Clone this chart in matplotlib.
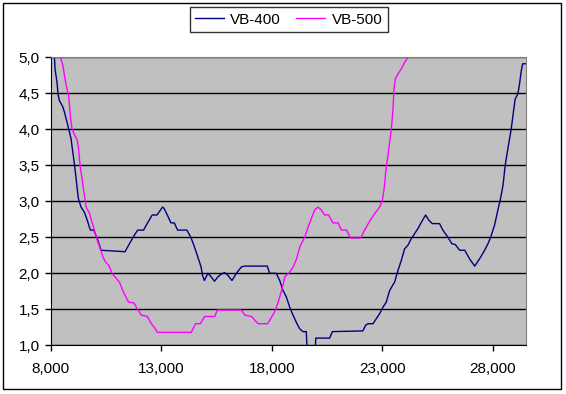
import matplotlib
matplotlib.use("Agg")
import matplotlib.pyplot as plt
from matplotlib.ticker import FuncFormatter, MultipleLocator
from matplotlib.patches import Rectangle

# VB-400 series
vb400_x = [8120, 8167, 8195, 8285, 8330, 8390, 8550, 8620, 8770, 8920, 9000, 9080, 9150, 9250,
           9370, 9520, 9650, 9750, 9800, 9950, 10130, 10280, 11360, 11560, 11785, 11935, 12200,
           12400, 12590, 12810, 13060, 13130, 13290, 13440, 13590, 13740, 14160, 14340, 14500,
           14650, 14800, 14870, 14950, 15110, 15260, 15410, 15560, 15720, 15870, 16020, 16200,
           16400, 16630, 16780, 17800, 17900, 18200, 18360, 18510, 18660, 18810, 18960, 19110,
           19260, 19410, 19560, 19620, 19950, 19990, 20100, 20620, 20740, 22120, 22250, 22360,
           22580, 22730, 22880, 23030, 23180, 23330, 23560, 23710, 23860, 24010, 24160, 24310,
           24460, 24610, 24770, 24960, 25100, 25260, 25590, 25740, 25970, 26150, 26300, 26500,
           26730, 26950, 27180, 27400, 27630, 27780, 27900, 28080, 28230, 28350, 28460, 28560,
           28680, 28830, 28940, 29010, 29130, 29200, 29280, 29350, 29500]
vb400_y = [5.2, 5.0, 4.84, 4.65, 4.49, 4.4, 4.31, 4.24, 4.06, 3.87, 3.68, 3.5, 3.31, 3.04,
           2.92, 2.85, 2.74, 2.64, 2.6, 2.6, 2.46, 2.32, 2.3, 2.41, 2.53, 2.6, 2.6,
           2.71, 2.81, 2.81, 2.92, 2.9, 2.8, 2.7, 2.7, 2.6, 2.6, 2.5, 2.37,
           2.23, 2.09, 1.97, 1.9, 2.0, 1.95, 1.89, 1.95, 1.99, 2.01, 1.97, 1.9,
           2.0, 2.09, 2.1, 2.1, 2.0, 2.0, 1.9, 1.76, 1.67, 1.53, 1.42, 1.32,
           1.23, 1.19, 1.19, 0.8, 0.8, 1.1, 1.1, 1.1, 1.19, 1.2, 1.28, 1.3,
           1.3, 1.37, 1.44, 1.53, 1.6, 1.76, 1.88, 2.04, 2.18, 2.34, 2.39, 2.48,
           2.55, 2.62, 2.71, 2.81, 2.74, 2.69, 2.69, 2.6, 2.5, 2.41, 2.4, 2.32,
           2.32, 2.2, 2.1, 2.2, 2.32, 2.41, 2.5, 2.67, 2.88, 3.04, 3.22, 3.5,
           3.73, 4.0, 4.26, 4.42, 4.49, 4.61, 4.8, 4.91, 4.91]

# VB-500 series
vb500_x = [8350, 8440, 8550, 8620, 8700, 8810, 8850, 8900, 8960, 9050, 9200, 9260, 9300, 9350,
           9420, 9490, 9560, 9600, 9760, 9835, 9940, 10060, 10210, 10360, 10470, 10630, 10770,
           10960, 11120, 11220, 11370, 11520, 11760, 11910, 12100, 12370, 12550, 12730, 12820,
           14360, 14550, 14770, 14960, 15420, 15540, 16620, 16780, 17080, 17380, 17810, 17990,
           18170, 18320, 18470, 18590, 18820, 18970, 19120, 19270, 19490, 19640, 19790, 19940,
           20090, 20240, 20390, 20570, 20770, 21000, 21150, 21380, 21570, 22020, 22200, 22400,
           22660, 22880, 23000, 23080, 23180, 23260, 23330, 23410, 23490, 23530, 23590, 23710,
           23860, 24010, 24160, 24250]
vb500_y = [5.1, 5.0, 4.89, 4.75, 4.61, 4.47, 4.33, 4.15, 4.01, 3.94, 3.85, 3.73, 3.59, 3.45,
           3.31, 3.15, 3.01, 2.92, 2.83, 2.74, 2.64, 2.5, 2.37, 2.23, 2.16, 2.11, 2.0,
           1.93, 1.87, 1.79, 1.69, 1.6, 1.59, 1.51, 1.42, 1.4, 1.3, 1.23, 1.18,
           1.18, 1.3, 1.3, 1.4, 1.4, 1.49, 1.49, 1.42, 1.4, 1.3, 1.3, 1.39,
           1.49, 1.63, 1.79, 1.95, 2.02, 2.09, 2.2, 2.37, 2.5, 2.64, 2.76, 2.88,
           2.92, 2.88, 2.81, 2.81, 2.7, 2.7, 2.6, 2.6, 2.49, 2.49, 2.6, 2.71,
           2.83, 2.92, 3.01, 3.17, 3.48, 3.64, 3.82, 4.0, 4.31, 4.56, 4.7, 4.77,
           4.84, 4.93, 5.0, 5.06]

x_ticks = [8000, 13000, 18000, 23000, 28000]

plt.rcParams['font.family'] = ['Liberation Sans', 'DejaVu Sans']

fig = plt.figure(figsize=(5.66, 3.94), dpi=100)
ax = fig.add_axes([0.0896, 0.1236, 0.8397, 0.731])
ax.set_facecolor('#c0c0c0')

ax.plot(vb400_x, vb400_y, color='#000080', lw=1.0, label='VB-400')
ax.plot(vb500_x, vb500_y, color='#ff00ff', lw=1.0, label='VB-500')

ax.set_xlim(8000, 29500)
ax.set_ylim(1.0, 5.0)
ax.yaxis.set_major_locator(MultipleLocator(0.5))
ax.set_xticks(x_ticks)
ax.yaxis.set_major_formatter(FuncFormatter(lambda v, p: f"{v:.1f}".replace('.', ',')))
ax.xaxis.set_major_formatter(FuncFormatter(lambda v, p: f"{int(v):,}"))
ax.grid(axis='y', color='black', lw=1.0)
ax.set_axisbelow(True)

for s in ['top', 'right']:
    ax.spines[s].set_color('#808080')
for s in ['left', 'bottom']:
    ax.spines[s].set_color('black')
ax.tick_params(direction='out', length=4, width=1, labelsize=11, colors='black', pad=4)
ax.tick_params(axis='x', pad=8)

leg = fig.legend(loc='center', bbox_to_anchor=(0.51, 0.95), ncol=2, fontsize=11,
                 frameon=True, fancybox=False, edgecolor='black', handlelength=1.9,
                 borderpad=0.35, columnspacing=1.0, handletextpad=0.4)
leg.get_frame().set_linewidth(1.0)

# outer chart frame
fig.patches.append(Rectangle((3 / 566, 5 / 394), 558 / 566, 386 / 394, transform=fig.transFigure,
                             fill=False, edgecolor='black', lw=1.0))

fig.savefig('out.png', dpi=100)
